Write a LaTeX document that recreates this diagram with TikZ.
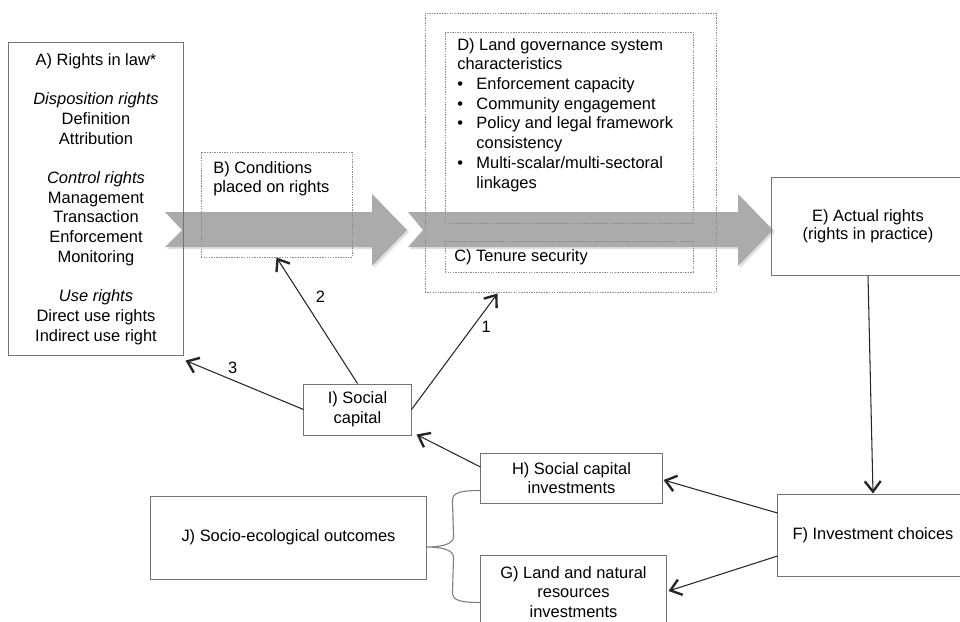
\documentclass[tikz,border=0pt]{standalone}
\usepackage{fontspec}
\setmainfont{Liberation Sans}
\usetikzlibrary{arrows.meta}

\begin{document}
\begin{tikzpicture}[x=0.025cm,y=-0.025cm,
    font=\fontsize{11.7}{14}\selectfont,
    box/.style={draw=black!55, line width=0.7pt, inner sep=0pt, align=center},
    dotbox/.style={draw=black!45, line width=0.6pt, dash pattern=on 1pt off 0.8pt, inner sep=0pt},
    txt/.style={inner sep=0pt, align=left, anchor=north west},
    link/.style={draw=black!85, line width=0.75pt, -{Straight Barb[length=2.6mm,width=4mm,line width=1.7pt]}},
    num/.style={inner sep=0pt},
    flow/.style={fill=black!33},
    flowshadow/.style={fill=black!12},
    brace/.style={draw=black!50, line width=0.8pt}]
    \useasboundingbox (0,0) rectangle (960,621);
    \clip (0,0) rectangle (960,621);

    % grey flow arrows
    \fill[flowshadow] (167,214) -- (374,214) -- (374,196) -- (409,232) -- (374,268) -- (374,249) -- (167,249) -- (184,232) -- cycle;
    \fill[flowshadow] (410,214) -- (740,214) -- (740,196) -- (775,232) -- (740,268) -- (740,249) -- (410,249) -- (425,232) -- cycle;
    \fill[flow] (165,212) -- (372,212) -- (372,194) -- (407,230) -- (372,266) -- (372,247) -- (165,247) -- (182,230) -- cycle;
    \fill[flow] (408,212) -- (738,212) -- (738,194) -- (773,230) -- (738,266) -- (738,247) -- (408,247) -- (423,230) -- cycle;

    % boxes
    \node[box, minimum width=4.35cm, minimum height=7.8cm] (A) at (96,199)
        {A) Rights in law*\\[14pt]\textit{Disposition rights}\\Definition\\Attribution\\[14pt]
         \textit{Control rights}\\Management\\Transaction\\Enforcement\\Monitoring\\[14pt]
         \textit{Use rights}\\Direct use rights\\Indirect use right};
    \node[dotbox, minimum width=3.775cm, minimum height=2.625cm] (B) at (276.5,204.5) {};
    \node[txt] (Btext) at (213,161) {B) Conditions\\placed on rights};
    \node[dotbox, minimum width=7.275cm, minimum height=6.975cm] (outer) at (570.5,152.5) {};
    \node[dotbox, minimum width=6.2cm, minimum height=4.775cm] (D) at (569,127.5) {};
    \node[txt] (Dtext) at (457,38) {D) Land governance system\\characteristics\\
        \makebox[0.48cm][l]{\textbullet}Enforcement capacity\\
        \makebox[0.48cm][l]{\textbullet}Community engagement\\
        \makebox[0.48cm][l]{\textbullet}Policy and legal framework\\
        \hspace*{0.48cm}consistency\\
        \makebox[0.48cm][l]{\textbullet}Multi-scalar/multi-sectoral\\
        \hspace*{0.48cm}linkages};
    \node[dotbox, minimum width=6.2cm, minimum height=0.775cm] (C) at (569,256.5) {};
    \node[txt, anchor=west] (Ctext) at (454,257) {C) Tenure security};
    \node[box, minimum width=4.8cm, minimum height=2.45cm, font=\fontsize{11.7}{12.5}\selectfont] (E) at (868,226)
        {E) Actual rights\\(rights in practice)};
    \node[box, minimum width=4.75cm, minimum height=2.05cm] (F) at (873,535) {F) Investment choices};
    \node[box, minimum width=4.525cm, minimum height=1.25cm] (H) at (571.5,478) {H) Social capital\\investments};
    \node[box, minimum width=4.625cm, minimum height=1.85cm] (G) at (573.5,592) {G) Land and natural\\resources\\investments};
    \node[box, minimum width=6.875cm, minimum height=2.075cm] (J) at (288.5,537.5) {J) Socio-ecological outcomes};
    \node[box, minimum width=2.675cm, minimum height=1.275cm] (I) at (357.5,409.5) {I) Social\\capital};

    % links
    \draw[link] (E.south) -- (F.north);
    \draw[link] ([shift={(0,-22)}]F.west) -- ([shift={(1,2)}]H.east);
    \draw[link] ([shift={(0,21)}]F.west) -- ([shift={(2,-1)}]G.east);
    \draw[link] ([shift={(0,-11)}]H.west) -- ([shift={(5,-1)}]I.south east);
    \draw[link] (I.east) -- node[num, pos=0.71, right=6pt] {1} ([shift={(73,1)}]outer.south west);
    \draw[link] (I.north) -- node[num, pos=0.685, right=9.5pt] {2} (B.south);
    \draw[link] (I.west) -- node[num, pos=0.6, above=4pt] {3} ([shift={(2,5)}]A.south east);

    % brace
    \coordinate (btop) at ([shift={(0,-13)}]H.south west);
    \coordinate (bbot) at ([shift={(0,48)}]G.north west);
    \coordinate (btip) at ([shift={(0,9.5)}]J.east);
    \draw[brace] (btop) .. controls +(-20,0) and +(0,-8) .. ([shift={(-28,10)}]btop)
        -- ([shift={(27,-10)}]btip) .. controls +(0,8) and +(12,0) .. (btip)
        .. controls +(12,0) and +(0,-8) .. ([shift={(27,10)}]btip)
        -- ([shift={(-28,-10)}]bbot) .. controls +(0,8) and +(-20,0) .. (bbot);
\end{tikzpicture}
\end{document}
